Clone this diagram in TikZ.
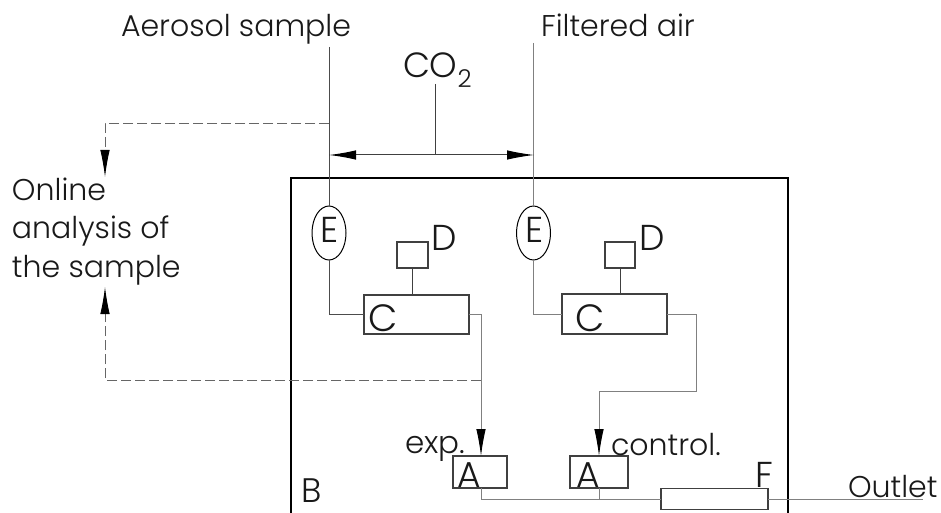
\documentclass[tikz,border=0pt]{standalone}
\usepackage{fontspec}
\setmainfont{Poppins Light}
\usetikzlibrary{shapes.geometric,arrows.meta}
\tikzset{
 x=1pt,y=-1pt,
 thinbox/.style={draw=black!75,line width=1.1pt,inner sep=0,outer sep=0,rectangle},
 pipe/.style={draw=black!50,line width=0.9pt},
 dark/.style={draw=black!75,line width=0.8pt},
 dashline/.style={draw=black!60,line width=0.9pt,dash pattern=on 10pt off 4pt},
 tipped/.style={-{Latex[length=27pt,width=9.5pt,black]}},
 tippedboth/.style={{Latex[length=27pt,width=9.5pt,black]}-{Latex[length=27pt,width=9.5pt,black]}},
 lab/.style={anchor=base west,inner sep=0,outer sep=0,font=\fontsize{30}{30}\selectfont,text=black!90},
 big/.style={lab,font=\fontsize{36}{36}\selectfont},
 ell/.style={ellipse,draw=black,line width=1pt,inner sep=0,outer sep=0,minimum width=34pt,minimum height=54pt},
}
\newcommand{\boxnode}[5]{\node[thinbox,minimum width=#4pt,minimum height=#5pt] (#1) at (#2,#3) {};}
\begin{document}
\begin{tikzpicture}
\useasboundingbox (0,0) rectangle (941,513);
\fill[white] (0,0) rectangle (941,513);
% named free ends
\coordinate (s1) at (329,47);
\coordinate (s2) at (533.5,43);
\coordinate (co) at (435,84);
\coordinate (h1) at (329,155);
\coordinate (h2) at (534,155);
\coordinate (hm) at (435,155);
\coordinate (tap1) at (329,123);
\coordinate (tap2) at (481,380);
\coordinate (on1) at (105,177);
\coordinate (on2) at (105,287);
\coordinate (in1) at (481,456);
\coordinate (in2) at (599,456);
\coordinate (bend) at (696,391);
\coordinate (out) at (923,499);
\coordinate (o1) at (481,488);
\coordinate (o2) at (599,488);
\coordinate (j2) at (599,499);
% outer box
\draw[black,line width=1.5pt] (291,513) -- (291,178) -- (788,178) -- (788,513);
% elements
\node[ell] (E1) at (329,233) {};
\node[ell] (E2) at (533.5,233) {};
\boxnode{D1}{412.5}{255}{31}{26}
\boxnode{D2}{620}{255}{30}{26}
\boxnode{C1}{416.5}{314.5}{105}{39}
\boxnode{C2}{614.5}{314}{105}{40}
\boxnode{A1}{480}{472}{54}{32}
\boxnode{A2}{599}{472}{58}{32}
\boxnode{F1}{714.5}{499}{107}{21}
% connectors
\draw[pipe,draw=black!70] (s1) -- (E1.north);
\draw[pipe] (s2) -- (E2.north);
\draw[dark] (co) -- (hm);
\draw[dark,line width=1pt,tippedboth] (h1) -- (h2);
\draw[dashline,tipped] (tap1) -| (on1);
\draw[dashline,tipped] (tap2) -| (on2);
\draw[pipe,draw=black!70] (E1.south) |- (C1.west);
\draw[pipe] (E2.south) |- (C2.west);
\draw[dark] (D1.south) -- (D1.south |- C1.north);
\draw[dark] (D2.south) -- (D2.south |- C2.north);
\draw[pipe,tipped] (C1.east) -| (in1);
\draw[pipe,tipped] (C2.east) -| (bend) -| (in2);
\draw[pipe] (o1) |- (F1.west);
\draw[pipe] (o2) -- (j2);
\draw[pipe] (F1.east) -- (out);
% labels
\node[lab] (t1) at (121,37) {Aerosol sample};
\node[lab] (t2) at (541,37) {Filtered air};
\node[lab,font=\fontsize{35}{35}\selectfont] (t3) at (403,78) {CO\textsubscript{2}};
\node[lab] (t4) at (12,200) {Online};
\node[lab] (t5) at (12,238) {analysis of};
\node[lab] (t6) at (12,277) {the sample};
\node[big] (t7) at (320,242) {E};
\node[big] (t8) at (525,242) {E};
\node[big] (t9) at (431,250) {D};
\node[big] (t10) at (639,250) {D};
\node[lab,font=\fontsize{38}{38}\selectfont] (t11) at (368,331) {C};
\node[lab,font=\fontsize{38}{38}\selectfont] (t12) at (575,331) {C};
\node[big] (t13) at (457,487) {A};
\node[big] (t14) at (576,487) {A};
\node[lab,font=\fontsize{34}{34}\selectfont] (t15) at (301,502) {B};
\node[big] (t16) at (755,487) {F};
\node[lab,font=\fontsize{31}{31}\selectfont] (t17) at (405,453) {exp.};
\node[lab] (t18) at (611,455) {control.};
\node[lab] (t19) at (848,497) {Outlet};
\end{tikzpicture}
\end{document}
